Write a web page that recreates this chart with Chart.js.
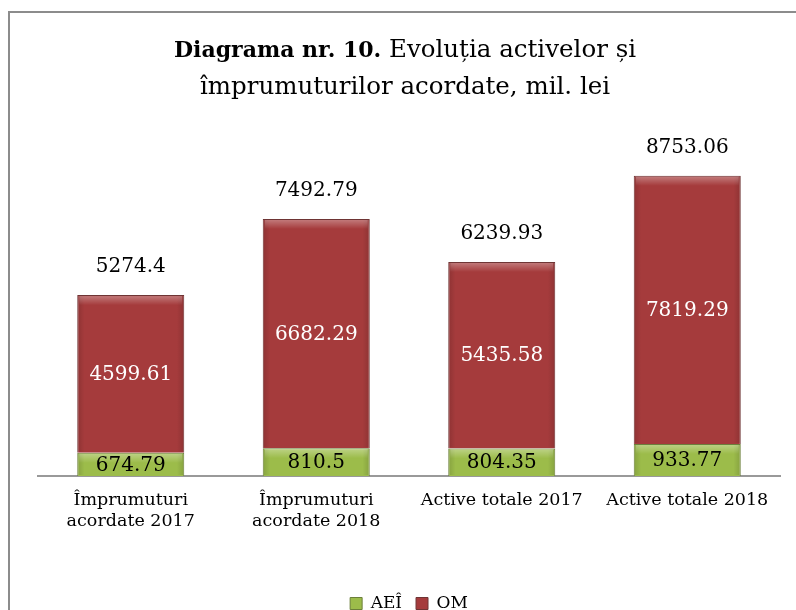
<!DOCTYPE html>
<html>
<head>
<meta charset="utf-8">
<script src="https://cdn.jsdelivr.net/npm/chart.js@4"></script>
<style>
  body { margin: 0; background: #fff; overflow: hidden; }
  #frame { position: absolute; left: 8px; top: 11px; width: 820px; height: 640px; border: 2px solid #8c8c8c; box-sizing: border-box; }
  #chart { position: absolute; left: 0; top: 0; }
</style>
</head>
<body>
<div id="frame"></div>
<canvas id="chart" width="796" height="622"></canvas>
<script>
// categories and values
const categories = [
  ['Împrumuturi', 'acordate 2017'],
  ['Împrumuturi', 'acordate 2018'],
  'Active totale 2017',
  'Active totale 2018'
]
const aeiValues = [674.79, 810.5, 804.35, 933.77]
const omValues = [4599.61, 6682.29, 5435.58, 7819.29]
const totalLabels = ['5274.4', '7492.79', '6239.93', '8753.06']

const serif = '"DejaVu Serif", serif'

// Title with bold prefix
const titlePlugin = {
  id: 'titleText',
  afterDraw(chart) {
    const ctx = chart.ctx
    ctx.save()
    ctx.fillStyle = '#000'
    ctx.textBaseline = 'middle'
    const bold = 'bold 22px ' + serif
    const normal = '24.5px ' + serif
    const a = 'Diagrama nr. 10.'
    const b = ' Evoluția activelor și'
    ctx.font = bold
    const wa = ctx.measureText(a).width
    ctx.font = normal
    const wb = ctx.measureText(b).width
    const cx = 405
    let x = cx - (wa + wb) / 2
    ctx.textAlign = 'left'
    ctx.font = bold
    ctx.fillText(a, x, 51)
    ctx.font = normal
    ctx.fillText(b, x + wa, 51)
    ctx.textAlign = 'center'
    ctx.fillText('împrumuturilor acordate, mil. lei', cx, 88)
    ctx.restore()
  }
}

// Value labels plus a little shine on each bar
const labelsPlugin = {
  id: 'barLabels',
  afterDatasetsDraw(chart) {
    const ctx = chart.ctx
    ctx.save()
    chart.data.datasets.forEach((ds, i) => {
      const meta = chart.getDatasetMeta(i)
      meta.data.forEach((bar) => {
        const half = bar.width / 2
        const left = bar.x - half + 1
        const w = bar.width - 2
        // darker side edges
        const side = ctx.createLinearGradient(left, 0, left + w, 0)
        side.addColorStop(0, 'rgba(0,0,0,0.12)')
        side.addColorStop(0.06, 'rgba(0,0,0,0)')
        side.addColorStop(0.94, 'rgba(0,0,0,0)')
        side.addColorStop(1, 'rgba(0,0,0,0.12)')
        ctx.fillStyle = side
        ctx.fillRect(left, bar.y + 1, w, bar.base - bar.y - 2)
        // top shine
        const g = ctx.createLinearGradient(0, bar.y, 0, bar.y + 10)
        g.addColorStop(0, 'rgba(255,255,255,0.35)')
        g.addColorStop(1, 'rgba(255,255,255,0)')
        ctx.fillStyle = g
        ctx.fillRect(left + 1, bar.y + 1, w - 2, 10)
      })
    })
    ctx.textAlign = 'center'
    ctx.textBaseline = 'middle'
    ctx.font = '20px ' + serif
    chart.data.datasets.forEach((ds, i) => {
      const meta = chart.getDatasetMeta(i)
      ctx.fillStyle = i === 0 ? '#000' : '#fff'
      meta.data.forEach((bar, j) => {
        ctx.fillText(String(ds.data[j]), bar.x, (bar.y + bar.base) / 2 + 1)
      })
    })
    ctx.fillStyle = '#000'
    const top = chart.getDatasetMeta(1)
    top.data.forEach((bar, j) => {
      ctx.fillText(totalLabels[j], bar.x, bar.y - 28)
    })
    ctx.restore()
  }
}

new Chart(document.getElementById('chart'), {
  type: 'bar',
  data: {
    labels: categories,
    datasets: [
      {
        label: 'AEÎ',
        data: aeiValues,
        backgroundColor: '#9cbc4a',
        borderColor: '#6b7f3a',
        borderWidth: 1,
        barPercentage: 0.577,
        categoryPercentage: 1
      },
      {
        label: 'OM',
        data: omValues,
        backgroundColor: '#a53b3c',
        borderColor: '#6e3434',
        borderWidth: 1,
        barPercentage: 0.577,
        categoryPercentage: 1
      }
    ]
  },
  options: {
    responsive: false,
    animation: false,
    layout: { padding: { top: 133, left: 38, right: 16, bottom: 0 } },
    scales: {
      x: {
        stacked: true,
        grid: { display: false },
        border: { color: '#999', width: 2 },
        ticks: { color: '#000', font: { family: serif, size: 17.5 }, padding: 6, maxRotation: 0 },
        afterFit(scale) { scale.height += 43 }
      },
      y: {
        stacked: true,
        display: false,
        min: 0,
        max: 10000
      }
    },
    plugins: {
      title: { display: false },
      tooltip: { enabled: false },
      legend: {
        position: 'bottom',
        labels: {
          color: '#000',
          font: { family: serif, size: 17 },
          boxWidth: 12,
          boxHeight: 12,
          padding: 14
        }
      }
    }
  },
  plugins: [titlePlugin, labelsPlugin]
})
</script>
</body>
</html>
